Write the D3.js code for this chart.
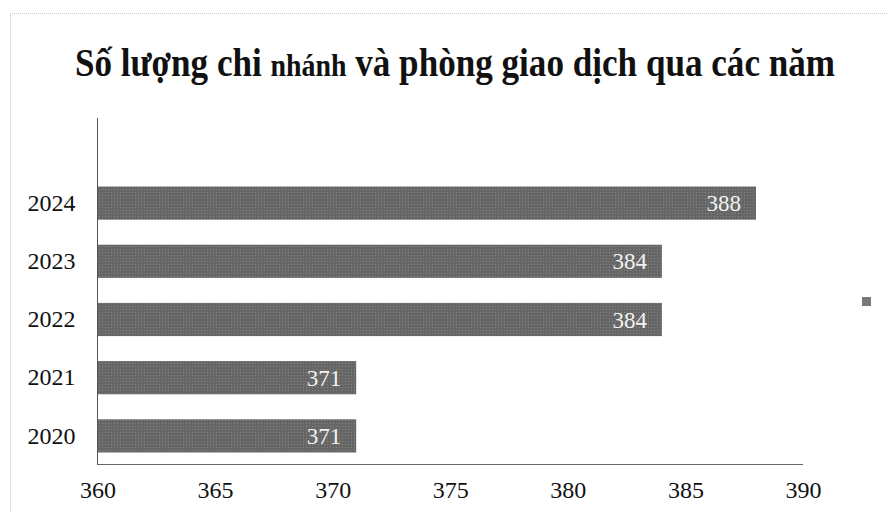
<!DOCTYPE html>
<html><head><meta charset="utf-8">
<script src="https://cdn.jsdelivr.net/npm/d3@7"></script>
<style>body{margin:0;background:#fff}</style>
</head><body>
<svg id="c" width="893" height="519"></svg>
<script>
const years = ["2020","2021","2022","2023","2024"];
const values = [371, 371, 384, 384, 388];
const xTicks = [360, 365, 370, 375, 380, 385, 390];
const titleParts = ["Số lượng chi ", "nhánh", " và phòng giao dịch qua các năm"];

const svg = d3.select("#c");
const serif = "'Liberation Serif','Times New Roman',serif";

// faint dotted border (left and top visible)
svg.append("path").attr("d","M10.5,512V13.5H888")
  .attr("fill","none").attr("stroke","#c8c8c8").attr("stroke-dasharray","1,1");

// pattern for textured bars
const defs = svg.append("defs");
const pat = defs.append("pattern").attr("id","tex").attr("width",3).attr("height",3).attr("patternUnits","userSpaceOnUse");
pat.append("rect").attr("width",3).attr("height",3).attr("fill","#666");
pat.append("rect").attr("width",1).attr("height",1).attr("fill","#858585");

const x = d3.scaleLinear().domain([360,390]).range([97.5,803]);
const y = d3.scaleBand().domain(years).range([465,174]).paddingInner(0.43).paddingOuter(0.215);

// title
const title = svg.append("text").attr("transform","translate(455,76) scale(1,1.15)").attr("text-anchor","middle")
  .attr("font-family",serif).attr("font-weight","bold").attr("font-size",34).attr("fill","#111");
titleParts.forEach((t,i)=>{
  title.append("tspan").attr("font-size", i===1 ? 27 : null).text(t);
});
const w = title.node().getComputedTextLength();
const s = 760 / w;
title.attr("font-size", 34*s);
title.selectAll("tspan").filter((d,i)=>i===1).attr("font-size", 27*s);

// bars
svg.append("g").selectAll("rect").data(years).join("rect")
  .attr("x", x(360)).attr("y", d=>y(d))
  .attr("width", (d,i)=>x(values[i])-x(360)).attr("height", y.bandwidth())
  .attr("fill","url(#tex)");

// value labels
svg.append("g").selectAll("text").data(years).join("text")
  .attr("x",(d,i)=>x(values[i])-15).attr("y",d=>y(d)+y.bandwidth()/2)
  .attr("dy","0.35em").attr("text-anchor","end")
  .attr("font-family",serif).attr("font-size",23).attr("fill","#f2f2f2")
  .text((d,i)=>values[i]);

// y axis line
svg.append("line").attr("x1",97.5).attr("x2",97.5).attr("y1",118).attr("y2",465)
  .attr("stroke","#555").attr("stroke-width",1);
// x axis line
svg.append("line").attr("x1",97.5).attr("x2",803).attr("y1",464.5).attr("y2",464.5)
  .attr("stroke","#666").attr("stroke-width",1);

// y labels
const ya = svg.append("g").attr("transform","translate(97.5,0)")
  .call(d3.axisLeft(y).tickSize(0).tickPadding(22));
ya.select(".domain").remove();
ya.selectAll("text").attr("font-family",serif).attr("font-size",24).attr("fill","#111");

// x labels
const xa = svg.append("g").attr("transform","translate(0,464.5)")
  .call(d3.axisBottom(x).tickValues(xTicks).tickSize(0).tickPadding(16));
xa.select(".domain").remove();
xa.selectAll("text").attr("font-family",serif).attr("font-size",24).attr("fill","#111");

// legend marker
svg.append("rect").attr("x",862).attr("y",297).attr("width",9).attr("height",9).attr("fill","#7a7a7a");
</script>
</body></html>
